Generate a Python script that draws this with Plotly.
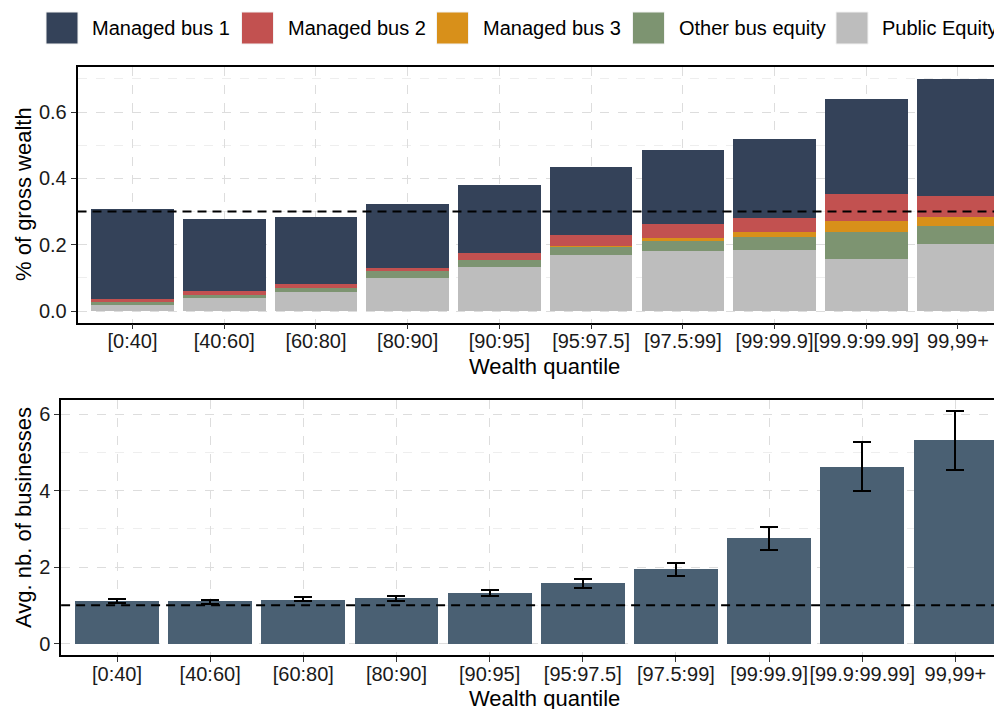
import plotly.graph_objects as go

# page body has an 8px margin, so the figure is sized to the visible area
PAD = 8
W, H = 1002 - PAD, 709 - PAD

quantiles = ["[0:40]", "[40:60]", "[60:80]", "[80:90]", "[90:95]",
             "[95:97.5]", "[97.5:99]", "[99:99.9]", "[99.9:99.99]", "99,99+"]

# stacked shares of gross wealth (bottom to top)
public_equity = [0.017, 0.039, 0.059, 0.101, 0.134, 0.168, 0.180, 0.183, 0.158, 0.201]
other_bus = [0.009, 0.011, 0.012, 0.019, 0.021, 0.025, 0.033, 0.039, 0.079, 0.057]
managed_3 = [0.000, 0.000, 0.000, 0.000, 0.000, 0.003, 0.006, 0.015, 0.036, 0.027]
managed_2 = [0.009, 0.010, 0.012, 0.011, 0.020, 0.032, 0.045, 0.045, 0.081, 0.063]
managed_1 = [0.274, 0.219, 0.202, 0.193, 0.206, 0.207, 0.222, 0.237, 0.286, 0.352]

# average number of businesses with confidence band
avg_nb = [1.12, 1.10, 1.15, 1.20, 1.33, 1.59, 1.96, 2.77, 4.62, 5.33]
nb_low = [1.05, 1.04, 1.10, 1.12, 1.25, 1.46, 1.78, 2.46, 3.98, 4.55]
nb_high = [1.16, 1.15, 1.21, 1.25, 1.39, 1.70, 2.10, 3.06, 5.28, 6.08]

ref_share = 0.3
ref_nb = 1.0

COLORS = {
    "Managed bus 1": "#344259",
    "Managed bus 2": "#C25150",
    "Managed bus 3": "#D8901A",
    "Other bus equity": "#7D9471",
    "Public Equity": "#BDBDBD",
    "count": "#4A6073",
}

FONT = "Liberation Sans, Arial, sans-serif"


def px(x):
    """window pixel x -> paper fraction"""
    return (x - PAD) / W


def py(y):
    """window pixel y (from top) -> paper fraction"""
    return 1 - (y - PAD) / H


fig = go.Figure()

stack = [
    ("Public Equity", public_equity),
    ("Other bus equity", other_bus),
    ("Managed bus 3", managed_3),
    ("Managed bus 2", managed_2),
    ("Managed bus 1", managed_1),
]
for name, vals in stack:
    fig.add_trace(go.Bar(
        x=quantiles, y=vals, name=name,
        marker=dict(color=COLORS[name], line=dict(width=0)),
        xaxis="x", yaxis="y", showlegend=False,
    ))

fig.add_trace(go.Bar(
    x=quantiles, y=avg_nb,
    marker=dict(color=COLORS["count"], line=dict(width=0)),
    error_y=dict(
        type="data", symmetric=False,
        array=[h - m for h, m in zip(nb_high, avg_nb)],
        arrayminus=[m - l for m, l in zip(avg_nb, nb_low)],
        color="black", thickness=2, width=9,
    ),
    xaxis="x2", yaxis="y2", showlegend=False,
))

# dashed reference lines
fig.add_shape(type="line", xref="x domain", yref="y", x0=0, x1=1,
              y0=ref_share, y1=ref_share,
              line=dict(color="black", width=2, dash="9px,6px"))
fig.add_shape(type="line", xref="x2 domain", yref="y2", x0=0, x1=1,
              y0=ref_nb, y1=ref_nb,
              line=dict(color="black", width=2, dash="9px,6px"))

grid = dict(showgrid=True, gridcolor="#DDDDDD", gridwidth=1, griddash="dash")
tickfont = dict(size=20, color="#1a1a1a", family=FONT)
xcommon = dict(
    type="category", **grid, showline=True, linecolor="black", linewidth=1.5,
    mirror=True, ticks="outside", ticklen=5, tickcolor="#333333",
    tickfont=tickfont, tickangle=0, ticklabelstandoff=-5,
    automargin=False, zeroline=False,
)
ycommon = dict(
    **grid, showline=True, linecolor="black", linewidth=1.5, mirror=False,
    ticks="outside", ticklen=5, tickcolor="#333333",
    tickfont=tickfont, automargin=False, zeroline=False,
)

fig.update_layout(
    width=W, height=H, autosize=False,
    margin=dict(l=0, r=0, t=0, b=0),
    paper_bgcolor="white", plot_bgcolor="white",
    barmode="stack", bargap=0.1,
    font=dict(family=FONT, color="black"),
    xaxis=dict(**xcommon, domain=[px(77.5), 1], range=[-0.6, 9.48],
               anchor="y"),
    yaxis=dict(**ycommon, domain=[py(322.7), py(67.3)],
               range=[-0.035, 0.735], tickvals=[0, 0.2, 0.4, 0.6],
               tickformat=".1f", anchor="x",
               minor=dict(dtick=0.1, tick0=0, showgrid=True,
                          gridcolor="#EEEEEE", griddash="dash", ticks="")),
    xaxis2=dict(**xcommon, domain=[px(61.1), 1], range=[-0.6, 9.5],
                anchor="y2"),
    yaxis2=dict(**ycommon, domain=[py(655), py(399.7)],
                range=[-0.3, 6.38], tickvals=[0, 2, 4, 6], anchor="x2",
                minor=dict(dtick=1, tick0=0, showgrid=True,
                           gridcolor="#EEEEEE", griddash="dash", ticks="")),
)

# axis titles
titles = [
    ("Wealth quantile", 544, 366, 0),
    ("Wealth quantile", 544, 698, 0),
    ("% of gross wealth", 23, 194, -90),
    ("Avg. nb. of businesses", 23, 518, -90),
]
for text, x, y, angle in titles:
    fig.add_annotation(text=text, x=px(x), y=py(y), xref="paper", yref="paper",
                       showarrow=False, textangle=angle,
                       font=dict(size=22, color="black", family=FONT),
                       xanchor="center", yanchor="middle")

# legend drawn as keys + labels along the top
legend_names = ["Managed bus 1", "Managed bus 2", "Managed bus 3",
                "Other bus equity", "Public Equity"]
legend_key_x = [46, 241.5, 436.5, 632.5, 836]
for name, kx in zip(legend_names, legend_key_x):
    fig.add_shape(type="rect", xref="paper", yref="paper",
                  x0=px(kx), x1=px(kx + 32), y0=py(44), y1=py(12),
                  fillcolor=COLORS[name], line=dict(color="#F2F2F2", width=1))
    fig.add_annotation(text=name, x=px(kx + 44), y=py(28),
                       xref="paper", yref="paper", showarrow=False,
                       xanchor="left", yanchor="middle",
                       font=dict(size=20, color="black", family=FONT))

fig.write_html("out.html")
